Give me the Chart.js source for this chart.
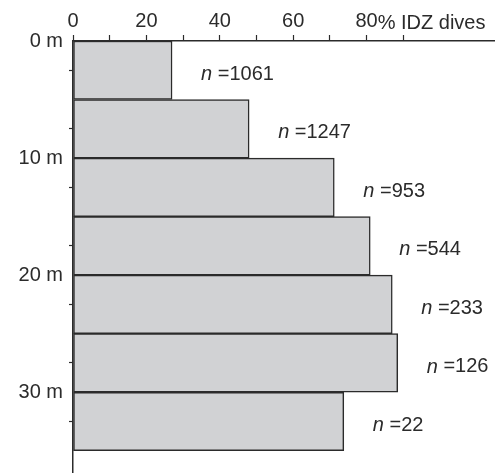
<!DOCTYPE html>
<html>
<head>
<meta charset="utf-8">
<script src="https://cdn.jsdelivr.net/npm/chart.js@4"></script>
<style>
  body { margin: 0; background: #fff; }
  #wrap { width: 495px; height: 473px; }
</style>
</head>
<body>
<div id="wrap"><canvas id="myChart" width="495" height="473"></canvas></div>
<script>
// depth bins (m, centre of each 5 m band) and % of IDZ dives
const depths = [2.5, 7.5, 12.5, 17.5, 22.5, 27.5, 32.5];
const percents = [27, 48, 71.2, 81, 87, 88.5, 73.8];
const counts = [1061, 1247, 953, 544, 233, 126, 22];
const xTicks = [0, 20, 40, 60, 80];
const yTicks = [0, 10, 20, 30];

const fontFam = "'Liberation Sans', Arial, sans-serif";
Chart.defaults.font.family = fontFam;
Chart.defaults.font.size = 20;
Chart.defaults.color = '#222';

const ink = '#2b2b2b';

// n = ... labels beside each bar
const countLabels = {
    id: 'countLabels',
    afterDatasetsDraw(chart) {
        const c = chart.ctx;
        const meta = chart.getDatasetMeta(0);
        c.save();
        c.fillStyle = ink;
        c.textBaseline = 'middle';
        c.textAlign = 'left';
        meta.data.forEach(function(bar, i) {
            let x = bar.x + 29;
            const y = bar.y + 4;
            c.font = 'italic 20px ' + fontFam;
            c.fillText('n', x, y);
            x += c.measureText('n ').width;
            c.font = '20px ' + fontFam;
            c.fillText('=' + counts[i], x, y);
        });
        c.restore();
    }
};

// "% IDZ dives" after the 80 tick label
const axisUnit = {
    id: 'axisUnit',
    afterDraw(chart) {
        const c = chart.ctx;
        const sx = chart.scales.x;
        c.save();
        c.font = '20px ' + fontFam;
        c.fillStyle = ink;
        c.textBaseline = 'bottom';
        c.textAlign = 'left';
        const px = sx.getPixelForValue(80) + c.measureText('80').width / 2;
        c.fillText('% IDZ dives', px, sx.bottom - 6 - 2);
        c.restore();
    }
};

new Chart(document.getElementById('myChart'), {
    type: 'bar',
    data: {
        datasets: [{
            data: depths.map((d, i) => ({ x: percents[i], y: d })),
            backgroundColor: '#d1d2d4',
            borderColor: ink,
            borderWidth: 1.5,
            borderSkipped: false,
            barPercentage: 1,
            categoryPercentage: 1
        }]
    },
    plugins: [countLabels, axisUnit],
    options: {
        responsive: false,
        animation: false,
        indexAxis: 'y',
        layout: { padding: 0 },
        plugins: {
            legend: { display: false },
            tooltip: { enabled: false }
        },
        scales: {
            x: {
                type: 'linear',
                position: 'top',
                min: 0,
                max: 115,
                afterFit: function(scale) {
                    scale.height = 41;
                    scale.paddingLeft = 0;
                    scale.paddingRight = 0;
                },
                border: { display: true, color: ink, width: 1.5 },
                grid: {
                    drawOnChartArea: false,
                    tickLength: 6,
                    tickWidth: 1.2,
                    tickColor: ctx => (ctx.tick && ctx.tick.value <= 90) ? ink : 'rgba(0,0,0,0)'
                },
                ticks: {
                    stepSize: 10,
                    includeBounds: false,
                    maxRotation: 0,
                    autoSkip: false,
                    padding: 2,
                    color: ink,
                    callback: v => xTicks.includes(v) ? String(v) : ''
                }
            },
            y: {
                type: 'linear',
                reverse: true,
                offset: false,
                min: 0,
                max: 36.9,
                afterFit: function(scale) {
                    scale.width = 73;
                    scale.paddingTop = 0;
                    scale.paddingBottom = 0;
                },
                border: { display: true, color: ink, width: 1.5 },
                grid: {
                    drawOnChartArea: false,
                    tickLength: 4,
                    tickWidth: 1.2,
                    tickColor: ink
                },
                ticks: {
                    stepSize: 5,
                    includeBounds: false,
                    autoSkip: false,
                    padding: 6,
                    color: ink,
                    callback: v => yTicks.includes(v) ? v + ' m' : ''
                }
            }
        }
    }
});
</script>
</body>
</html>
